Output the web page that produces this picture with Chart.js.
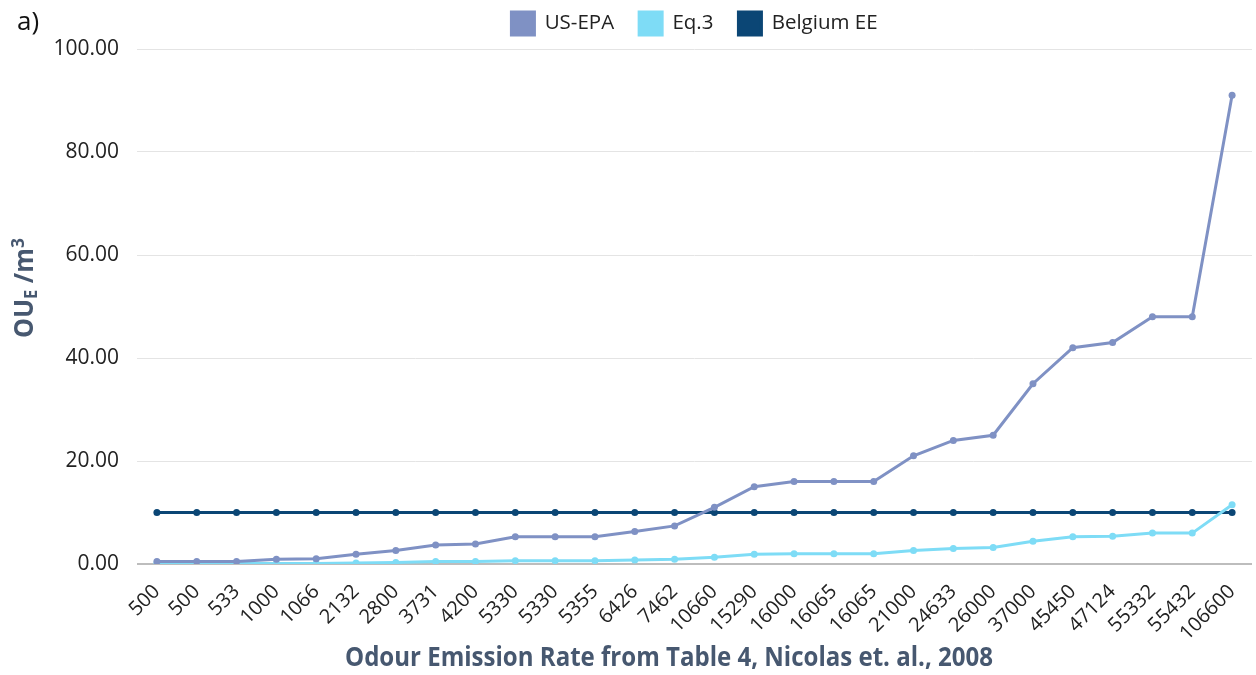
<!DOCTYPE html>
<html>
<head>
<meta charset="utf-8">
<script src="https://cdn.jsdelivr.net/npm/chart.js@4/dist/chart.umd.min.js"></script>
<style>
  html, body { margin: 0; padding: 0; background: #ffffff; }
  #wrap { width: 1256px; height: 675px; position: relative; }
</style>
</head>
<body>
<div id="wrap"><canvas id="chart" width="1256" height="675"></canvas></div>
<script>
// Odour emission rates (categories on the x axis)
const emissionRates = ['500', '500', '533', '1000', '1066', '2132', '2800', '3731', '4200', '5330',
  '5330', '5355', '6426', '7462', '10660', '15290', '16000', '16065', '16065', '21000',
  '24633', '26000', '37000', '45450', '47124', '55332', '55432', '106600'];

// Concentrations, OU_E/m3
const usEpa = [0.5, 0.5, 0.5, 0.9, 1.0, 1.9, 2.6, 3.7, 3.9, 5.3,
  5.3, 5.3, 6.3, 7.4, 11.0, 15.0, 16.0, 16.0, 16.0, 21.0,
  24.0, 25.0, 35.0, 42.0, 43.0, 48.0, 48.0, 91.0];
const eq3 = [0.1, 0.1, 0.1, 0.1, 0.1, 0.2, 0.3, 0.5, 0.5, 0.65,
  0.65, 0.65, 0.8, 0.9, 1.3, 1.9, 2.0, 2.0, 2.0, 2.6,
  3.0, 3.2, 4.4, 5.3, 5.4, 6.0, 6.0, 11.5];
const belgiumEE = [10, 10, 10, 10, 10, 10, 10, 10, 10, 10,
  10, 10, 10, 10, 10, 10, 10, 10, 10, 10,
  10, 10, 10, 10, 10, 10, 10, 10];

const yTicks = [0, 20, 40, 60, 80, 100];

const TITLE_COLOR = '#475870';

// Leave a little more room between the legend row and the plot
const LegendElement = Chart.Legend._element;
const baseLegendFit = LegendElement.prototype.fit;
LegendElement.prototype.fit = function () {
  baseLegendFit.call(this);
  if (this.isHorizontal()) this.height += 4;
};

// Draw a run of text pieces (with sub/superscripts) squeezed to a given width
function drawRich(ctx, pieces, targetWidth) {
  let total = 0;
  const widths = pieces.map(p => {
    ctx.font = p.font;
    const w = ctx.measureText(p.t).width;
    total += w;
    return w;
  });
  const sx = targetWidth / total;
  ctx.save();
  ctx.scale(sx, 1);
  let x = -total / 2;
  pieces.forEach((p, i) => {
    ctx.font = p.font;
    ctx.fillText(p.t, x, p.dy || 0);
    x += widths[i];
  });
  ctx.restore();
}

const annotations = {
  id: 'annotations',
  afterDraw(chart) {
    const ctx = chart.ctx;
    ctx.save();
    ctx.fillStyle = '#111';
    ctx.textAlign = 'left';
    ctx.textBaseline = 'alphabetic';
    ctx.font = '26px "Open Sans"';
    ctx.fillText('a)', 17, 30);

    // x axis title
    ctx.fillStyle = TITLE_COLOR;
    ctx.translate(669, 666);
    drawRich(ctx, [{ t: 'Odour Emission Rate from Table 4, Nicolas et. al., 2008', font: 'bold 26px "Open Sans"' }], 648);
    ctx.restore();

    // y axis title
    ctx.save();
    ctx.fillStyle = TITLE_COLOR;
    ctx.textAlign = 'left';
    ctx.translate(26, 288);
    ctx.rotate(-Math.PI / 2);
    drawRich(ctx, [
      { t: 'OU', font: 'bold 26px "Open Sans"' },
      { t: 'E', font: 'bold 17px "Open Sans"', dy: 6 },
      { t: ' /m', font: 'bold 26px "Open Sans"' },
      { t: '3', font: 'bold 18px "Open Sans"', dy: -7 }
    ], 100);
    ctx.restore();
  }
};

const ctx = document.getElementById('chart').getContext('2d');
new Chart(ctx, {
  type: 'line',
  data: {
    labels: emissionRates,
    datasets: [
      {
        label: 'US-EPA',
        data: usEpa,
        borderColor: '#7f91c4',
        backgroundColor: '#7f91c4',
        borderWidth: 3,
        pointRadius: 3.5,
        pointBorderWidth: 0,
        tension: 0
      },
      {
        label: 'Eq.3',
        data: eq3,
        borderColor: '#7edcf6',
        backgroundColor: '#7edcf6',
        borderWidth: 3,
        pointRadius: 3.5,
        pointBorderWidth: 0,
        tension: 0
      },
      {
        label: 'Belgium EE',
        data: belgiumEE,
        borderColor: '#0b4675',
        backgroundColor: '#0b4675',
        borderWidth: 3,
        pointRadius: 3.5,
        pointBorderWidth: 0,
        tension: 0
      }
    ]
  },
  options: {
    responsive: false,
    animation: false,
    layout: { padding: { top: -13, right: 4, left: 0, bottom: 0 } },
    plugins: {
      legend: {
        position: 'top',
        fullSize: false,
        labels: {
          boxWidth: 23,
          boxHeight: 23,
          padding: 25,
          color: '#222',
          font: { family: 'Open Sans', size: 20.5 }
        }
      },
      tooltip: { enabled: false }
    },
    scales: {
      x: {
        offset: true,
        grid: { display: false },
        border: { display: false },
        ticks: {
          autoSkip: false,
          maxRotation: 45,
          minRotation: 45,
          padding: 8,
          color: '#222',
          font: { family: 'Open Sans', size: 20 }
        },
        afterFit(scale) {
          scale.height = 111;
          scale.paddingLeft = 0;
          scale.paddingRight = 0;
        }
      },
      y: {
        min: 0,
        max: 100,
        afterBuildTicks(scale) { scale.ticks = yTicks.map(v => ({ value: v })); },
        grid: {
          drawTicks: false,
          color: c => c.tick && c.tick.value === 0 ? '#bdbdbd' : '#e4e4e4',
          lineWidth: c => c.tick && c.tick.value === 0 ? 2 : 1
        },
        border: { display: false },
        ticks: {
          padding: 18,
          color: '#222',
          font: { family: 'Open Sans', size: 21 },
          callback: v => Number(v).toFixed(2)
        },
        afterFit(scale) { scale.width = 137; }
      }
    }
  },
  plugins: [annotations]
});
</script>
</body>
</html>
